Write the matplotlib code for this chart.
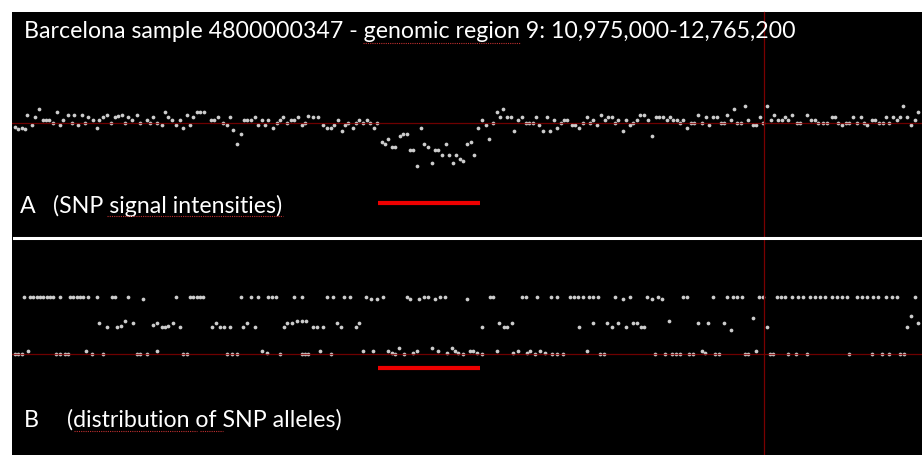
import numpy as np
from matplotlib import pyplot as plt
from matplotlib.lines import Line2D
from matplotlib.patches import Rectangle

# panel A: SNP signal intensities (log R ratio) along the region
snp_pos_a = [15, 18, 22, 25, 27, 32, 35, 39, 43, 46, 49, 53, 57, 60, 63, 68, 72, 74, 78, 82,
             85, 88, 93, 97, 99, 103, 107, 111, 115, 118, 122, 125, 128, 132, 137, 140, 147, 150, 153, 157,
             162, 165, 168, 172, 176, 180, 183, 187, 190, 193, 197, 200, 204, 211, 214, 218, 223, 227, 230, 233,
             237, 241, 244, 247, 251, 255, 258, 262, 265, 268, 273, 277, 280, 283, 287, 291, 294, 298, 302, 305,
             308, 313, 318, 323, 327, 331, 334, 338, 342, 345, 348, 353, 356, 359, 363, 367, 370, 374, 377, 382,
             385, 388, 392, 395, 400, 403, 407, 410, 413, 417, 421, 424, 428, 432, 435, 438, 442, 446, 449, 453,
             456, 460, 463, 467, 471, 474, 478, 482, 486, 489, 493, 497, 500, 503, 507, 511, 514, 518, 522, 526,
             529, 533, 536, 539, 543, 547, 550, 554, 557, 561, 564, 567, 572, 575, 579, 583, 587, 590, 593, 597,
             601, 605, 608, 612, 615, 618, 623, 626, 630, 633, 637, 640, 644, 648, 652, 656, 659, 663, 667, 670,
             673, 677, 680, 683, 687, 691, 694, 698, 702, 706, 709, 713, 717, 721, 724, 727, 731, 734, 737, 741,
             745, 748, 753, 756, 760, 763, 767, 771, 774, 778, 782, 785, 788, 792, 797, 800, 807, 811, 815, 818,
             823, 827, 832, 835, 838, 842, 846, 849, 853, 857, 861, 864, 867, 872, 875, 879, 883, 886, 889, 893,
             897, 900, 903, 907, 911, 915, 918]
lrr = [-0.08, -0.12, -0.10, -0.12, 0.16, -0.04, 0.12, 0.27, 0.06, 0.06, 0.06, 0.00, 0.22, -0.05, 0.06, 0.16, 0.00, 0.16, -0.05, 0.16,
       0.00, 0.12, 0.06, -0.10, 0.06, 0.12, 0.16, 0.00, 0.12, 0.13, 0.16, 0.00, 0.12, 0.06, 0.16, 0.00, 0.06, 0.00, 0.12, 0.00,
       -0.05, 0.22, 0.12, 0.06, -0.05, 0.06, -0.10, 0.16, -0.05, 0.12, 0.22, 0.22, 0.22, 0.06, 0.06, 0.12, 0.00, -0.05, 0.12, -0.15,
       -0.43, -0.22, 0.06, 0.06, 0.06, 0.12, -0.05, 0.06, -0.05, 0.06, -0.10, 0.00, 0.06, 0.12, 0.00, 0.06, 0.06, 0.12, -0.05, 0.00,
       0.14, 0.12, 0.12, -0.05, -0.10, -0.10, -0.05, 0.06, -0.16, -0.05, 0.00, -0.10, 0.00, 0.06, 0.00, 0.06, 0.00, -0.10, 0.00, -0.38,
       -0.43, -0.33, -0.48, -0.48, -0.27, -0.23, -0.22, -0.55, -0.55, -0.87, -0.10, -0.43, -0.48, -0.80, -0.55, -0.55, -0.65, -0.43, -0.65, -0.80,
       -0.65, -0.72, -0.76, -0.43, -0.38, -0.65, -0.10, 0.05, -0.05, -0.33, 0.00, 0.22, 0.12, 0.27, 0.12, 0.12, -0.16, 0.06, 0.12, 0.00,
       0.00, 0.00, 0.12, -0.05, -0.16, 0.12, -0.16, 0.06, -0.10, 0.00, 0.06, 0.06, -0.05, -0.05, -0.10, 0.00, 0.12, 0.00, 0.06, -0.05,
       0.16, 0.06, 0.12, 0.12, 0.00, 0.06, -0.16, 0.06, -0.05, 0.00, 0.06, 0.16, 0.16, 0.06, -0.27, 0.12, 0.12, 0.12, 0.06, 0.12,
       0.06, 0.06, 0.00, 0.06, -0.10, 0.00, 0.00, 0.16, 0.00, 0.12, -0.05, 0.12, 0.12, 0.00, 0.00, 0.16, 0.06, 0.27, 0.00, 0.00,
       0.33, 0.06, -0.05, -0.05, 0.12, 0.00, 0.33, 0.06, 0.16, 0.06, 0.06, 0.12, 0.06, 0.16, 0.00, 0.00, 0.16, 0.06, 0.06, 0.00,
       0.00, 0.00, 0.12, 0.12, 0.00, -0.05, 0.00, 0.00, 0.12, 0.00, 0.12, 0.00, -0.05, 0.06, 0.06, 0.00, 0.00, 0.12, 0.00, 0.12,
       0.06, 0.12, 0.33, 0.12, -0.05, 0.06, 0.22]

# panel B: B allele frequency, one list per genotype band (BB, AB, AA)
pos_bb = [24, 30, 33, 37, 40, 43, 47, 50, 53, 60, 70, 73, 77, 80, 83, 88, 97, 112, 115, 128,
          143, 176, 190, 193, 197, 200, 203, 241, 251, 258, 268, 272, 276, 294, 302, 327, 333, 344, 350, 366,
          371, 377, 383, 407, 410, 419, 424, 428, 435, 440, 445, 467, 490, 493, 522, 526, 537, 551, 557, 570,
          574, 578, 583, 589, 593, 598, 615, 623, 630, 647, 652, 658, 662, 683, 687, 713, 727, 733, 737, 742,
          759, 763, 777, 781, 785, 792, 798, 803, 810, 815, 820, 825, 832, 837, 842, 847, 857, 862, 867, 873,
          878, 886, 892, 897, 915]
baf_bb = [1.0, 1.0, 1.0, 1.0, 1.0, 1.0, 1.0, 1.0, 1.0, 1.0, 1.0, 1.0, 1.0, 1.0, 1.0, 1.0, 1.0, 1.0, 1.0, 1.0,
          0.96, 1.0, 1.0, 1.0, 1.0, 1.0, 1.0, 1.0, 1.0, 1.0, 1.0, 1.0, 1.0, 1.0, 1.0, 1.0, 1.0, 1.0, 1.0, 1.0,
          0.96, 0.96, 1.0, 1.0, 0.96, 0.96, 1.0, 1.0, 0.96, 1.0, 1.0, 0.96, 1.0, 1.0, 1.0, 1.0, 1.0, 1.0, 1.0, 1.0,
          1.0, 1.0, 1.0, 1.0, 1.0, 1.0, 1.0, 0.96, 1.0, 1.0, 0.96, 1.0, 0.96, 1.0, 1.0, 1.0, 1.0, 1.0, 1.0, 1.0,
          1.0, 1.0, 1.0, 1.0, 1.0, 1.0, 1.0, 1.0, 1.0, 1.0, 1.0, 1.0, 1.0, 1.0, 1.0, 1.0, 1.0, 1.0, 1.0, 1.0,
          1.0, 1.0, 1.0, 1.0, 1.0]
pos_ab = [99, 107, 117, 121, 125, 133, 153, 157, 162, 165, 168, 173, 180, 212, 216, 220, 224, 230, 243, 247,
          255, 284, 287, 292, 297, 302, 306, 313, 317, 323, 337, 341, 356, 359, 482, 499, 504, 507, 512, 579,
          593, 607, 612, 618, 626, 633, 637, 641, 644, 669, 698, 708, 724, 731, 753, 767, 907, 911, 918]
baf_ab = [0.54, 0.48, 0.48, 0.49, 0.58, 0.54, 0.51, 0.54, 0.48, 0.48, 0.49, 0.54, 0.48, 0.48, 0.54, 0.48, 0.48, 0.48, 0.48, 0.54,
          0.48, 0.48, 0.54, 0.54, 0.58, 0.58, 0.58, 0.48, 0.48, 0.48, 0.54, 0.48, 0.48, 0.54, 0.48, 0.54, 0.48, 0.48, 0.54, 0.48,
          0.54, 0.54, 0.48, 0.54, 0.48, 0.54, 0.54, 0.48, 0.48, 0.58, 0.54, 0.54, 0.54, 0.43, 0.63, 0.48, 0.48, 0.67, 0.54]
pos_aa = [15, 18, 22, 28, 56, 60, 65, 68, 86, 92, 103, 137, 140, 147, 157, 183, 187, 227, 232, 237,
          262, 267, 280, 302, 305, 308, 320, 331, 363, 373, 388, 392, 395, 399, 404, 413, 417, 432, 438, 447,
          452, 455, 458, 463, 470, 473, 477, 482, 497, 513, 518, 527, 530, 535, 540, 545, 552, 557, 563, 587,
          600, 604, 655, 665, 672, 676, 680, 689, 693, 702, 705, 715, 719, 745, 748, 756, 770, 773, 788, 796,
          807, 849, 872, 882, 889, 900, 904]
baf_aa = [0.0, 0.0, 0.0, 0.05, 0.0, 0.0, 0.0, 0.0, 0.05, 0.0, 0.0, 0.0, 0.0, 0.0, 0.05, 0.0, 0.0, 0.0, 0.0, 0.0,
          0.05, 0.01, 0.0, 0.0, 0.0, 0.0, 0.05, 0.0, 0.05, 0.05, 0.05, 0.01, 0.0, 0.10, 0.0, 0.01, 0.05, 0.10, 0.05, 0.01,
          0.10, 0.05, 0.01, 0.0, 0.05, 0.05, 0.01, 0.0, 0.05, 0.01, 0.05, 0.01, 0.05, 0.0, 0.05, 0.01, 0.0, 0.0, 0.0, 0.05,
          0.0, 0.0, 0.0, 0.0, 0.0, 0.0, 0.0, 0.0, 0.0, 0.05, 0.01, 0.0, 0.0, 0.0, 0.0, 0.05, 0.0, 0.0, 0.0, 0.0,
          0.0, 0.0, 0.0, 0.0, 0.0, 0.0, 0.0]

deletion = (378, 480)   # span of the deleted segment (red bars)
cursor_pos = 764        # browser cursor (vertical line)
region = (12, 922)

title = 'Barcelona sample 4800000347 - genomic region 9: 10,975,000-12,765,200'
label_a = ['A', '(SNP signal intensities)']
label_b = ['B', '(distribution of SNP alleles)']

W, H = 922, 455
fig = plt.figure(figsize=(W / 100, H / 100), dpi=100, facecolor='white')
plt.rcParams['font.family'] = ['Lato', 'DejaVu Sans']


def fx(px):
    return px / W


def fy(py):
    return 1 - py / H


fig.add_artist(Rectangle((fx(12), 0), fx(W - 12), fy(12), transform=fig.transFigure,
                         facecolor='black', edgecolor='none', zorder=0))

axA = fig.add_axes([fx(12), fy(236), fx(910), 224 / H])
axB = fig.add_axes([fx(12), 0, fx(910), 216 / H])
for ax in (axA, axB):
    ax.set_facecolor('none')
    ax.set_xticks([])
    ax.set_yticks([])
    for s in ax.spines.values():
        s.set_visible(False)
    ax.set_xlim(*region)

axA.set_ylim(-2.27, 2.21)
axB.set_ylim(-1.772, 2.018)

dot = dict(ls='none', marker='o', ms=2.7, mew=0, color='#cccccc', zorder=2)
axA.plot(snp_pos_a, lrr, **dot)
axB.plot(pos_bb, baf_bb, **dot)
axB.plot(pos_ab, baf_ab, **dot)
axB.plot(pos_aa, baf_aa, **dot)

# reference lines
axA.axhline(0, color='#8a0000', lw=0.9, alpha=0.8, zorder=3)
axB.axhline(0, color='#8a0000', lw=0.9, alpha=0.8, zorder=3)
fig.add_artist(Line2D([fx(cursor_pos)] * 2, [0, fy(12)], color='#7a0000', lw=0.9, zorder=3))

# deleted segment
axA.hlines(-1.6, *deletion, color='#ee0000', lw=3, zorder=4)
axB.hlines(-0.246, *deletion, color='#ee0000', lw=3, zorder=4)

# separator between panels
fig.add_artist(Line2D([fx(14), 1], [fy(237.5)] * 2, color='white', lw=2.2, zorder=5))

fs = 16.7
fig.text(fx(24), fy(38), title, color='white', fontsize=fs, va='baseline')
fig.text(fx(20), fy(213), label_a[0], color='white', fontsize=fs, va='baseline')
fig.text(fx(53), fy(213), label_a[1], color='white', fontsize=fs, va='baseline')
fig.text(fx(24), fy(427), label_b[0], color='white', fontsize=fs, va='baseline')
fig.text(fx(67), fy(427), label_b[1], color='white', fontsize=fs, va='baseline')

# spell-check squiggles under some words
squig = dict(color='#c03030', lw=0.8, ls=(0, (1, 1)), zorder=5)
for x0, x1, yy in [(363, 520, 43), (107, 283, 216), (74, 197, 431), (200, 223, 431)]:
    fig.add_artist(Line2D([fx(x0), fx(x1)], [fy(yy)] * 2, **squig))

fig.savefig('out.png', dpi=100, facecolor='white')
